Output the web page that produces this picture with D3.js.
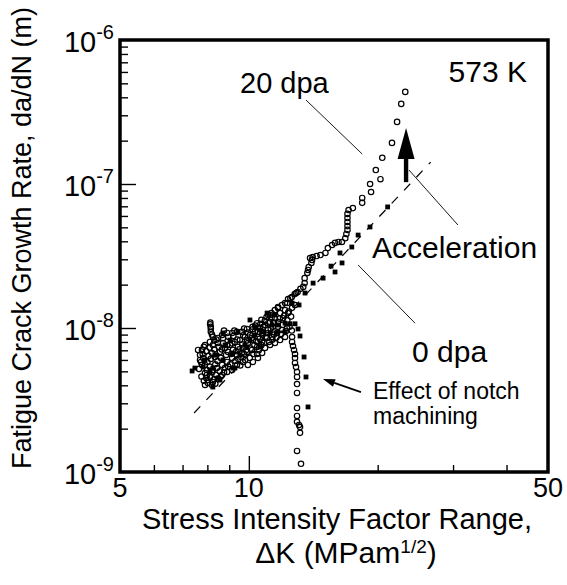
<!DOCTYPE html>
<html>
<head>
<meta charset="utf-8">
<script src="https://cdn.jsdelivr.net/npm/d3@7"></script>
<style>
  body { margin: 0; background: #fff; }
  text { font-family: "Liberation Sans", Arial, Helvetica, sans-serif; fill: #000; }
</style>
</head>
<body>
<script>
// ---- data (dK in MPa m^1/2, da/dN in units of 1e-9 m/cycle) ----
const dpa20 = [
  [23.2,436],[22.7,360],[22.2,270],[21.6,193],[20.5,152],[19.8,125],[20.3,108],[19.2,100],[19.3,88],
  [18.4,80],[18.4,74],[17.5,68],[17.1,66],[17.0,62],[17.0,58],[17.0,54.5],[17.0,51],[17.0,48],
  [16.9,45],[16.8,42],[16.5,39.6],[16.2,39.6],[15.9,39],[15.65,37.7],[15.3,35.9],[15.1,33.2],
  [14.7,32.1],[14.4,31.6],[14.1,31.1],[14.05,29.7],[13.9,30.6],[14.0,28.3],[13.8,26.5],[13.75,25.3],
  [13.7,24.1],[13.5,22.2],[13.5,20.5],[13.4,19.3],[13.2,18.7],[13.0,17.8],[12.9,17.5],[12.8,17.2],
  [12.6,16.4],[12.35,15.9],[12.15,14.9],[11.95,14.45],[11.7,14.0],[11.5,13.3],[11.3,12.7],[11.1,12.3],
  [12.5,16.1],[12.3,14.9],[11.7,13.75],[11.2,12.3],[11.0,11.9],[10.7,11.4],[10.45,10.8],[10.2,10.2],
  [9.9,9.85],[9.63,9.4],[9.38,9.4],[9.14,9.24],[8.9,9.24],[8.66,8.94],[8.47,8.53],[8.24,8.67],
  [8.15,10.2],[8.15,9.4],[8.15,9.9],[8.12,10.6],[8.13,10.9],[8.11,8.0],[7.9,7.62],[7.77,7.04],[7.69,6.49],
  [7.82,6.19],[7.73,5.81],[7.9,5.54],[7.98,5.11],[7.98,4.72],[8.02,4.35],[8.24,4.22],[8.47,4.43],
  [8.66,4.72],[8.9,4.95],[9.14,5.11],[9.38,5.54],[9.69,5.81],[9.95,5.54],[10.22,5.81],[10.5,6.19],
  [10.74,6.71],[10.91,7.27],[11.21,7.62],[11.51,7.87],[11.83,8.25],[12.15,8.66],[12.28,10.0],
  [11.96,9.69],[11.64,9.24],[11.33,8.66],[11.03,8.53],[10.74,8.0],[10.45,7.39],[10.17,7.04],[9.9,6.82],
  [9.63,6.71],[9.38,6.49],[9.14,6.19],[8.9,5.81],[8.66,5.54],[8.42,5.27],[8.2,4.95],[8.33,6.29],
  [8.56,6.82],[8.8,7.27],[9.04,7.62],[9.28,8.0],[9.53,8.25],[9.79,8.66],[10.06,8.94],[10.33,9.39],
  [10.62,10.0],[10.91,10.49],[11.21,11.0],[11.51,11.7],[11.83,12.7],[12.15,13.3],[8.24,7.62],[8.47,7.87],
  [8.7,7.87],[8.94,6.82],[9.18,7.04],[9.43,7.39],[9.69,7.27],[9.95,7.87],[10.22,8.25],[10.5,8.66],
  [10.79,9.24],[11.09,9.69],[11.39,10.2],[11.7,11.0],[12.02,11.7],[12.35,12.7],[12.62,13.8],[12.82,14.45],
  [7.61,7.04],[7.77,5.54],[7.9,4.87],[8.11,4.57],[8.02,4.15],[8.2,4.02],[7.69,6.0],[7.9,4.02],
  // dense band of the 20 dpa scatter
  [7.65,5.2],[7.75,4.6],[7.85,4.3],[7.8,6.6],[7.95,6.9],[7.85,7.4],[8.0,5.8],[8.05,6.4],[7.95,4.5],
  [8.1,5.4],[8.15,6.1],[8.2,6.7],[8.3,7.1],[8.35,5.6],[8.4,4.7],[8.3,4.4],[8.45,5.9],[8.5,7.4],
  [8.4,8.3],[8.2,9.0],[8.3,8.2],[8.1,7.3],[8.25,5.1],[8.35,4.1],[8.55,5.0],[8.6,6.2],[8.65,7.1],
  [8.7,8.5],[8.75,9.6],[8.8,5.3],[8.85,6.5],[8.9,7.6],[8.95,8.7],[8.6,4.6],[8.75,4.9],[8.95,5.4],
  [9.05,5.6],[9.1,6.6],[9.15,7.8],[9.2,8.8],[9.25,9.6],[9.3,5.9],[9.35,6.9],[9.4,8.3],[9.45,6.1],
  [9.5,7.1],[9.55,5.5],[9.6,6.3],[9.65,7.7],[9.7,8.9],[9.75,9.9],[9.8,6.0],[9.85,7.0],[9.9,8.2],
  [9.95,9.3],[9.75,6.6],[10.05,6.2],[10.1,7.2],[10.15,8.5],[10.2,9.8],[10.25,6.6],[10.3,7.6],
  [10.35,10.4],[10.4,8.1],[10.45,6.6],[10.5,9.4],[10.55,7.0],[10.6,8.4],[10.65,10.7],[10.7,7.6],
  [10.75,9.0],[10.8,10.2],[10.85,7.9],[10.9,11.2],[10.95,8.7],[11.05,9.2],[11.1,10.8],[11.15,8.0],
  [11.25,9.9],[11.3,11.8],[11.35,8.3],[11.45,9.0],[11.45,10.9],[11.6,8.6],[11.7,10.2],[11.8,11.6],
  [11.9,9.1],[12.0,10.5],[12.1,12.2],[12.2,9.5],[12.3,11.3],[12.4,13.0],[12.45,10.2],[12.55,12.0],
  [12.6,9.6],
  // notch-affected drop
  [12.62,8.66],[12.62,8.0],[12.68,7.5],[12.75,7.04],[12.82,6.6],[12.82,6.19],[12.82,5.72],[12.89,5.36],
  [12.96,4.95],[12.96,4.57],[12.96,4.08],[12.96,3.54],[12.96,2.78],[12.96,2.45],[12.96,2.23],
  [13.1,2.12],[13.17,2.05],[13.17,1.87],[12.96,1.40],[13.24,1.14]
];

const dpa0 = [
  [21.1,69.3],[19.19,50.3],[18.0,44.2],[17.4,36.5],[16.33,33.2],[16.51,28.3],[15.56,26.9],[15.9,24.5],
  [14.91,22.2],[14.13,20.5],[13.53,17.5],[13.1,14.45],[12.62,14.9],[12.48,10.7],[12.82,10.7],
  [13.03,9.85],[13.17,8.8],[13.46,6.29],[13.6,4.57],[13.75,2.83],[12.15,10.8],[11.7,10.49],[11.33,10.49],
  [10.79,9.39],[11.03,12.7],[11.51,12.3],[7.37,5.03],[7.48,5.27],[8.24,3.89],[8.47,4.5],[8.11,5.11],
  [7.9,6.0],[8.33,6.49],[8.8,7.62],[9.04,8.25],[9.28,5.27],[9.53,6.49],[9.79,7.62],[10.06,8.25],
  [10.33,8.94],[10.62,9.69],[8.7,9.24],[9.43,9.39],[10.06,11.37],[10.33,10.2],[8.7,6.0],[9.18,5.27],
  [8.24,5.27],[8.11,4.87],[8.56,4.35],[7.82,5.36],[8.42,6.49],[9.14,6.71],[9.9,7.39],[10.62,7.39],
  [11.21,9.24],[11.64,9.39],[12.15,9.39]
];

// dashed Paris-law fit through the 0 dpa data
const fitDK = [7.45, 26.6];
const fitRate = [2.57, 142];

const xMajor = [10];
const xMinor = [6, 7, 8, 9, 20, 30, 40];
const xLabels = [5, 10, 50];
const yExponents = [-6, -7, -8, -9];
const yMinorMult = [2, 3, 4, 5, 6, 7, 8, 9];
const yDecades = [1e-9, 1e-8, 1e-7];

const nm = 1e-9;

// ---- layout ----
const W = 567, H = 585;
const plotL = 120, plotR = 548, plotT = 40, plotB = 472;

const svg = d3.select("body").append("svg")
  .attr("width", W).attr("height", H);

const x = d3.scaleLog().domain([5, 50]).range([plotL, plotR]);
const y = d3.scaleLog().domain([1e-9, 1e-6]).range([plotB, plotT]);

// ticks (inward)
function tickAxis(axis, tr) {
  const g = svg.append("g").attr("transform", tr).call(axis);
  g.select(".domain").remove();
  g.selectAll("line").attr("stroke", "#000").attr("stroke-width", 1.4);
  return g;
}
tickAxis(d3.axisBottom(x).tickValues(xMinor).tickSize(-7).tickFormat(""), `translate(0,${plotB})`);
tickAxis(d3.axisBottom(x).tickValues(xMajor).tickSize(-16).tickFormat(""), `translate(0,${plotB})`);
const yMinor = yDecades.flatMap(d => yMinorMult.map(m => d * m));
tickAxis(d3.axisLeft(y).tickValues(yMinor).tickSize(-8).tickFormat(""), `translate(${plotL},0)`);
tickAxis(d3.axisLeft(y).tickValues([1e-7, 1e-8]).tickSize(-16).tickFormat(""), `translate(${plotL},0)`);

// frame
svg.append("rect")
  .attr("x", plotL).attr("y", plotT)
  .attr("width", plotR - plotL).attr("height", plotB - plotT)
  .attr("fill", "none").attr("stroke", "#000").attr("stroke-width", 3.5);

// tick labels
svg.selectAll(".xlab").data(xLabels).enter().append("text")
  .attr("x", d => x(d)).attr("y", 497)
  .attr("text-anchor", "middle").style("font-size", "27px")
  .text(d => d);

const yl = svg.selectAll(".ylab").data(yExponents).enter().append("text")
  .attr("x", 114).attr("y", d => y(Math.pow(10, d)) + 12)
  .attr("text-anchor", "end");
yl.append("tspan").style("font-size", "29px").text("10");
yl.append("tspan").style("font-size", "20px").attr("dy", -13).text(d => "-" + Math.abs(d));

// axis titles
svg.append("text").attr("x", 337).attr("y", 529).attr("text-anchor", "middle")
  .style("font-size", "29px")
  .text("Stress Intensity Factor Range,");
const xt2 = svg.append("text").attr("x", 346).attr("y", 563).attr("text-anchor", "middle")
  .style("font-size", "30px");
xt2.append("tspan").text("\u0394K (MPam");
xt2.append("tspan").style("font-size", "19px").attr("dy", -10).text("1/2");
xt2.append("tspan").attr("dy", 10).text(")");

svg.append("text")
  .attr("transform", "translate(31,238) rotate(-90)")
  .attr("text-anchor", "middle").style("font-size", "27px")
  .text("Fatigue Crack Growth Rate, da/dN (m)");

// dashed fit line
svg.append("line")
  .attr("x1", x(fitDK[0])).attr("y1", y(fitRate[0] * nm))
  .attr("x2", x(fitDK[1])).attr("y2", y(fitRate[1] * nm))
  .attr("stroke", "#000").attr("stroke-width", 1.2)
  .attr("stroke-dasharray", "9,9");

// 20 dpa: open circles
svg.append("g").selectAll("circle").data(dpa20).enter().append("circle")
  .attr("cx", d => x(d[0])).attr("cy", d => y(d[1] * nm))
  .attr("r", 2.7).attr("fill", "none").attr("stroke", "#000").attr("stroke-width", 1.2);

// 0 dpa: filled squares
const s = 4.8;
svg.append("g").selectAll("rect").data(dpa0).enter().append("rect")
  .attr("x", d => x(d[0]) - s / 2).attr("y", d => y(d[1] * nm) - s / 2)
  .attr("width", s).attr("height", s).attr("fill", "#000");

// annotations
const leaders = [
  { from: [13.6, 383], to: [18.4, 161.6] },   // 20 dpa
  { from: [23.67, 125], to: [30.8, 51.9] },   // Acceleration
  { from: [18.0, 27.4], to: [24.45, 10.8] }   // 0 dpa
];
svg.selectAll(".leader").data(leaders).enter().append("line")
  .attr("x1", d => x(d.from[0])).attr("y1", d => y(d.from[1] * nm))
  .attr("x2", d => x(d.to[0])).attr("y2", d => y(d.to[1] * nm))
  .attr("stroke", "#000").attr("stroke-width", 0.9);

// big "acceleration" arrow
const ax = x(23.3), aTip = y(245 * nm), aBase = y(103 * nm);
svg.append("rect").attr("x", ax - 2.2).attr("y", aTip + 28)
  .attr("width", 4.4).attr("height", aBase - aTip - 28).attr("fill", "#000");
svg.append("path")
  .attr("d", `M${ax},${aTip} L${ax + 8.5},${aTip + 31} L${ax - 8.5},${aTip + 31} Z`)
  .attr("fill", "#000");

// notch arrow
const nTip = [x(14.9), y(4.42 * nm)], nTail = [x(18.28), y(3.59 * nm)];
const ang = Math.atan2(nTail[1] - nTip[1], nTail[0] - nTip[0]);
const hl = 12, hw = 4;
const bx = nTip[0] + hl * Math.cos(ang), by = nTip[1] + hl * Math.sin(ang);
svg.append("line")
  .attr("x1", bx).attr("y1", by).attr("x2", nTail[0]).attr("y2", nTail[1])
  .attr("stroke", "#000").attr("stroke-width", 1.8);
svg.append("path")
  .attr("d", `M${nTip[0]},${nTip[1]} L${bx - hw * Math.sin(ang)},${by + hw * Math.cos(ang)} L${bx + hw * Math.sin(ang)},${by - hw * Math.cos(ang)} Z`)
  .attr("fill", "#000");

// labels
const labels = [
  { t: "20 dpa", x: 240, y: 93, size: 29, anchor: "start" },
  { t: "573 K", x: 527, y: 82, size: 30, anchor: "end" },
  { t: "Acceleration", x: 372, y: 258, size: 30, anchor: "start" },
  { t: "0 dpa", x: 412, y: 362, size: 30, anchor: "start" },
  { t: "Effect of notch", x: 373, y: 399, size: 23, anchor: "start" },
  { t: "machining", x: 373, y: 424, size: 23, anchor: "start" }
];
svg.selectAll(".lab").data(labels).enter().append("text")
  .attr("x", d => d.x).attr("y", d => d.y)
  .attr("text-anchor", d => d.anchor)
  .style("font-size", d => d.size + "px")
  .text(d => d.t);
</script>
</body>
</html>
